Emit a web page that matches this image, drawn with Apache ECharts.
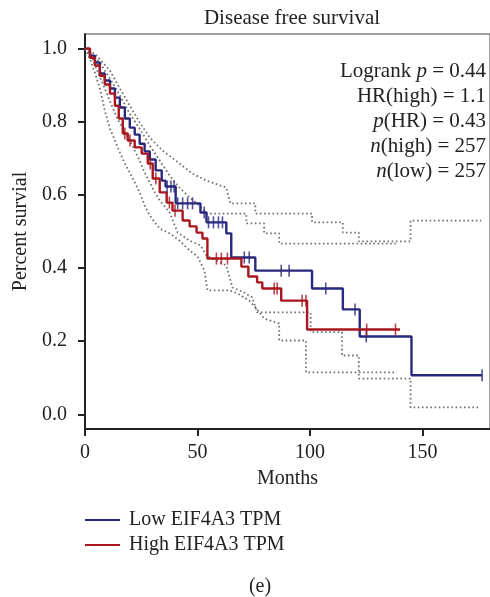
<!DOCTYPE html>
<html>
<head>
<meta charset="utf-8">
<script src="https://cdn.jsdelivr.net/npm/echarts@6/dist/echarts.min.js"></script>
<style>
  html, body { margin: 0; padding: 0; background: #fff; }
  #chart { width: 490px; height: 597px; }
</style>
</head>
<body>
<div id="chart"></div>
<script>
// ==============================
// data (months, survival)
// ==============================

const seriesNames = ['Low EIF4A3 TPM', 'High EIF4A3 TPM'];

const lowCurve = [
  [0, 1], [2.2, 0.981], [4.4, 0.962], [6.6, 0.932], [8.8, 0.913], [11.1, 0.891],
  [13.3, 0.866], [15.5, 0.839], [17.7, 0.809], [19.9, 0.784], [22.1, 0.765],
  [24.3, 0.740], [26.5, 0.719], [28.8, 0.697], [31.4, 0.667], [34.1, 0.639],
  [35.8, 0.623], [40.3, 0.577], [51.3, 0.552], [54.0, 0.525], [62.8, 0.495],
  [65.0, 0.429], [75.7, 0.393], [100.9, 0.344], [114.6, 0.287], [122.1, 0.213],
  [145.1, 0.107], [176.5, 0.107]
];

const highCurve = [
  [0, 1], [2.2, 0.975], [4.4, 0.954], [6.6, 0.926], [8.8, 0.902], [11.1, 0.877],
  [13.3, 0.844], [15.0, 0.809], [16.8, 0.768], [19.0, 0.749], [22.1, 0.730],
  [25.2, 0.713], [27.9, 0.686], [30.1, 0.645], [33.2, 0.607], [36.3, 0.579],
  [38.9, 0.557], [43.4, 0.530], [46.5, 0.514], [49.6, 0.497], [52.2, 0.481],
  [54.4, 0.426], [69.5, 0.404], [72.6, 0.377], [76.5, 0.361], [78.8, 0.344],
  [87.2, 0.311], [98.7, 0.232], [140, 0.232]
];

const lowCensor = [
  [36.5, 0.623], [38.2, 0.623], [39.6, 0.623], [41.2, 0.577], [43.4, 0.577],
  [45.6, 0.577], [47.8, 0.577], [53, 0.552], [54.9, 0.525], [57.1, 0.525],
  [59.3, 0.525], [61.1, 0.525], [70.8, 0.429], [73.0, 0.429], [87.2, 0.393],
  [90.7, 0.393], [107, 0.344], [120, 0.287], [125, 0.213], [176.5, 0.107]
];

const highCensor = [
  [17.7, 0.768], [20, 0.749], [29, 0.686], [31.5, 0.645], [37.5, 0.579],
  [40, 0.557], [58.4, 0.426], [60.6, 0.426], [63.3, 0.426], [84.1, 0.344],
  [85.4, 0.344], [96.5, 0.311], [98.2, 0.311], [125.2, 0.232], [138, 0.232]
];

// 95% bands (dotted), corners written out
const lowUpper = [
  [0, 1], [4.4, 0.986], [11.1, 0.940], [15.5, 0.891], [19.9, 0.844], [24.3, 0.798],
  [28.8, 0.757], [34.5, 0.721], [42.0, 0.686], [47.8, 0.658], [54.0, 0.639],
  [62.8, 0.620], [64.6, 0.577], [75.7, 0.577], [75.7, 0.549], [100.9, 0.549],
  [100.9, 0.525], [114.6, 0.525], [114.6, 0.497], [121.7, 0.497], [121.7, 0.473],
  [144.7, 0.473], [144.7, 0.530], [176.1, 0.530]
];

const highUpper = [
  [0, 1], [6.6, 0.962], [11.1, 0.918], [15.5, 0.872], [19.9, 0.822], [24.3, 0.781],
  [28.8, 0.735], [33.2, 0.694], [37.6, 0.653], [42.0, 0.620], [46.5, 0.593],
  [50.9, 0.571], [54.0, 0.549], [71.7, 0.549], [71.7, 0.522], [79.6, 0.522],
  [79.6, 0.495], [86.3, 0.495], [86.3, 0.467], [138.1, 0.467]
];

const lowLower = [
  [0, 1], [3.1, 0.978], [5.8, 0.934], [8.8, 0.891], [11.5, 0.850], [14.2, 0.811],
  [16.8, 0.781], [19.9, 0.749], [22.1, 0.721], [24.3, 0.694], [26.5, 0.661],
  [28.8, 0.634], [31.0, 0.607], [33.2, 0.585], [37.6, 0.552], [41.2, 0.497],
  [46.5, 0.475], [51.3, 0.462], [54.0, 0.434], [62.8, 0.407], [65.5, 0.347],
  [70.8, 0.333], [74.3, 0.320], [76.5, 0.279], [100.3, 0.279], [100.3, 0.225],
  [114.2, 0.225], [114.2, 0.161], [121.7, 0.161], [121.7, 0.098], [144.7, 0.098],
  [144.7, 0.019], [175.7, 0.019]
];

const highLower = [
  [0, 1], [2.2, 0.973], [4.4, 0.934], [6.6, 0.891], [8.8, 0.831], [11.1, 0.781],
  [13.3, 0.749], [15.5, 0.716], [17.7, 0.686], [19.9, 0.661], [22.1, 0.634],
  [24.3, 0.607], [26.5, 0.571], [28.8, 0.544], [31.0, 0.525], [33.2, 0.508],
  [37.6, 0.495], [42.0, 0.475], [46.5, 0.448], [50.0, 0.432], [53.1, 0.393],
  [54.4, 0.339], [64.2, 0.339], [67.7, 0.331], [73.0, 0.311], [76.1, 0.290],
  [79.6, 0.262], [86.3, 0.249], [86.3, 0.202], [98.2, 0.202], [98.2, 0.115],
  [138.1, 0.115]
];

const xTicks = [0, 50, 100, 150];
const yTicks = [0, 0.2, 0.4, 0.6, 0.8, 1.0];

const statsText = 'Logrank {i|p} = 0.44\nHR(high) = 1.1\n{i|p}(HR) = 0.43\n{i|n}(high) = 257\n{i|n}(low) = 257';

// ==============================
// chart
// ==============================

const FONT = 'Liberation Serif';
const lowColor = '#28287e';
const highColor = '#a8161e';

function bandSeries(data) {
  return {
    type: 'line',
    data,
    symbol: 'none',
    silent: true,
    z: 1,
    lineStyle: { color: '#6f6f6f', width: 1.8, type: [1.6, 2.6] }
  };
}

function censorSeries(data, color) {
  return {
    type: 'scatter',
    data,
    symbol: 'rect',
    symbolSize: [1.6, 12],
    silent: true,
    z: 4,
    itemStyle: { color }
  };
}

const chart = echarts.init(document.getElementById('chart'));

chart.setOption({
  animation: false,
  textStyle: { fontFamily: FONT },
  title: [
    {
      text: 'Disease free survival',
      left: 287,
      top: 3,
      textAlign: 'center',
      textStyle: { fontFamily: FONT, fontSize: 21, fontWeight: 'normal', color: '#222' }
    },
    {
      text: '(e)',
      left: 255,
      top: 572,
      textAlign: 'center',
      textStyle: { fontFamily: FONT, fontSize: 20, fontWeight: 'normal', color: '#222' }
    }
  ],
  graphic: [
    {
      type: 'text',
      x: 486,
      y: 59,
      style: {
        text: statsText,
        align: 'right',
        verticalAlign: 'top',
        fill: '#222',
        fontFamily: FONT,
        fontSize: 21,
        lineHeight: 25,
        rich: {
          i: { fontStyle: 'italic', fontFamily: FONT, fontSize: 21, lineHeight: 25, fill: '#222' }
        }
      }
    }
  ],
  legend: {
    data: seriesNames,
    orient: 'vertical',
    left: 85,
    top: 510,
    padding: 0,
    itemWidth: 35,
    itemHeight: 14,
    itemGap: 5,
    icon: 'path://M0,6 L35,6 L35,8 L0,8 Z',
    textStyle: { fontFamily: FONT, fontSize: 20, lineHeight: 20, color: '#222', padding: [0, 0, 0, 4] }
  },
  grid: {
    left: 85,
    top: 34,
    width: 407,
    height: 395,
    show: true,
    borderColor: '#444',
    borderWidth: 1
  },
  xAxis: {
    type: 'value',
    min: 0,
    max: 180,
    name: 'Months',
    nameLocation: 'middle',
    nameGap: 40,
    nameTextStyle: { fontFamily: FONT, fontSize: 20, color: '#222' },
    splitLine: { show: false },
    axisLine: { onZero: false, lineStyle: { color: '#222', width: 2 } },
    axisTick: { customValues: xTicks, length: 7, lineStyle: { color: '#222', width: 2 } },
    axisLabel: { customValues: xTicks, fontFamily: FONT, fontSize: 20, color: '#222', margin: 14 }
  },
  yAxis: {
    type: 'value',
    min: -0.04,
    max: 1.04,
    name: 'Percent survial',
    nameLocation: 'middle',
    nameGap: 53,
    nameTextStyle: { fontFamily: FONT, fontSize: 20, color: '#222' },
    splitLine: { show: false },
    axisLine: { onZero: false, lineStyle: { color: '#222', width: 2 } },
    axisTick: { customValues: yTicks, length: 7, lineStyle: { color: '#222', width: 2 } },
    axisLabel: {
      customValues: yTicks,
      fontFamily: FONT,
      fontSize: 20,
      color: '#222',
      margin: 18,
      formatter: v => v.toFixed(1)
    }
  },
  series: [
    bandSeries(lowUpper),
    bandSeries(highUpper),
    bandSeries(lowLower),
    bandSeries(highLower),
    {
      name: seriesNames[0],
      type: 'line',
      step: 'end',
      data: lowCurve,
      symbol: 'none',
      z: 2,
      itemStyle: { color: lowColor },
      lineStyle: { color: lowColor, width: 2.4 }
    },
    {
      name: seriesNames[1],
      type: 'line',
      step: 'end',
      data: highCurve,
      symbol: 'none',
      z: 3,
      itemStyle: { color: highColor },
      lineStyle: { color: highColor, width: 2.4 }
    },
    censorSeries(lowCensor, lowColor),
    censorSeries(highCensor, highColor)
  ]
});
</script>
</body>
</html>
